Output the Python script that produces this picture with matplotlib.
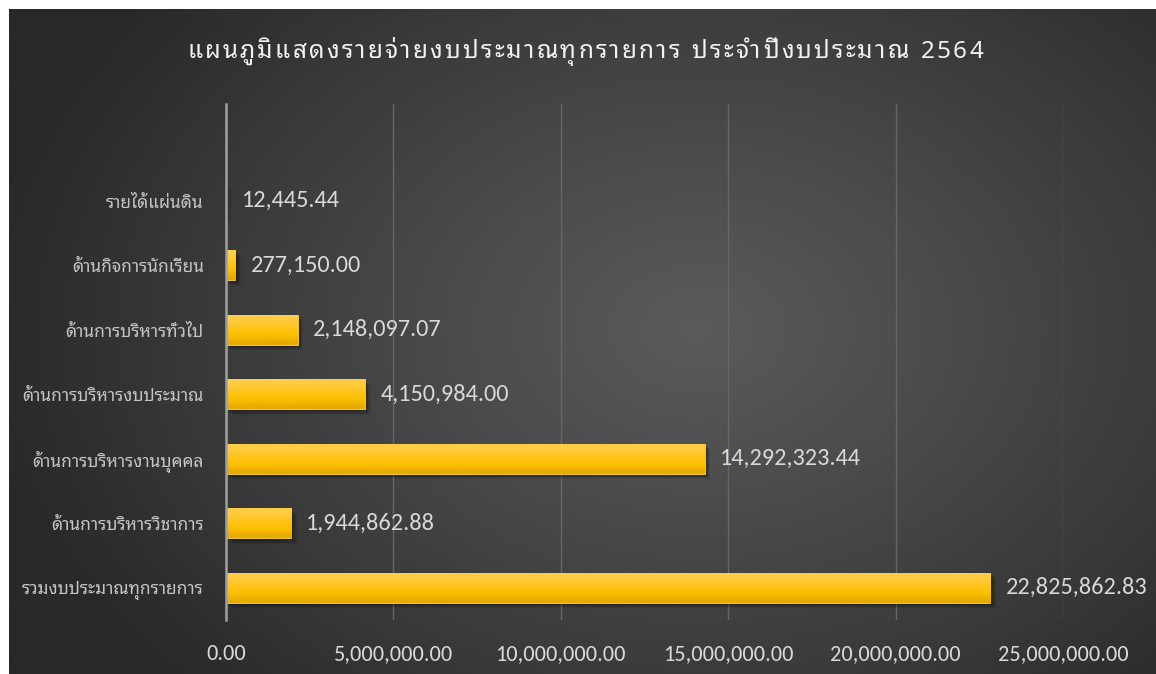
import matplotlib
matplotlib.use("Agg")
import matplotlib.pyplot as plt
import matplotlib.patheffects as pe
from matplotlib.ticker import FuncFormatter, MultipleLocator
import numpy as np

# ---- data ----
categories = [
    "รวมงบประมาณทุกรายการ",
    "ด้านการบริหารวิชาการ",
    "ด้านการบริหารงานบุคคล",
    "ด้านการบริหารงบประมาณ",
    "ด้านการบริหารทั่วไป",
    "ด้านกิจการนักเรียน",
    "รายได้แผ่นดิน",
]
values = [22825862.83, 1944862.88, 14292323.44, 4150984.00, 2148097.07, 277150.00, 12445.44]
title = "แผนภูมิแสดงรายจ่ายงบประมาณทุกรายการ ประจำปีงบประมาณ 2564"

W, H = 1156, 674
THAI = ["Noto Sans Thai Looped", "DejaVu Sans"]
NUM = ["Carlito", "DejaVu Sans"]

fig = plt.figure(figsize=(W / 100, H / 100), dpi=100, facecolor="white")

# background panel with radial gradient
bg = fig.add_axes([9 / W, 0, 1 - 9 / W, 1 - 9 / H])
bg.set_axis_off()
ny, nx = 300, 500
yy, xx = np.mgrid[0:ny, 0:nx]
cx, cy = 0.6 * nx, 0.48 * ny
d = np.sqrt(((xx - cx) / (0.62 * nx)) ** 2 + ((yy - cy) / (0.78 * ny)) ** 2)
d = np.clip(d, 0, 1)
lv = (0x5a - (0x5a - 0x29) * d ** 1.1) / 255.0
img = np.dstack([lv, lv, lv])
bg.imshow(img, aspect="auto", extent=[0, 1, 0, 1], origin="upper", interpolation="bicubic")
bg.set_xlim(0, 1)
bg.set_ylim(0, 1)

ax = fig.add_axes([226 / W, 1 - 620 / H, (1063 - 226) / W, (620 - 104) / H])
ax.set_facecolor("none")

ypos = np.arange(len(categories))
shadow = [pe.SimplePatchShadow(offset=(o, -o), shadow_rgbFace="black", alpha=a)
          for o, a in [(4.0, 0.08), (3.2, 0.1), (2.4, 0.12), (1.6, 0.14)]]
bars = ax.barh(ypos, values, height=0.465, color="#FFC000", edgecolor="#FFD24A",
               linewidth=0.6, zorder=3, path_effects=shadow + [pe.Normal()])

grad = np.array([[0xE6, 0xAC, 0x00], [0xFA, 0xBE, 0x00], [0xFF, 0xC3, 0x10],
                 [0xFF, 0xC8, 0x30], [0xFF, 0xCC, 0x45]]) / 255.0
grad = grad.reshape(5, 1, 3)
for b in bars:
    x0, y0 = b.get_x(), b.get_y()
    w, h = b.get_width(), b.get_height()
    im = ax.imshow(grad, extent=[x0, x0 + w, y0, y0 + h], origin="lower", aspect="auto",
                   interpolation="bilinear", zorder=4)
    im.set_clip_path(b)

for y, v in zip(ypos, values):
    ax.annotate(f"{v:,.2f}", xy=(v, y), xytext=(11, 0), textcoords="offset points",
                va="center", ha="left", fontsize=17.5, color="#d9d9d9", family=NUM, zorder=5)

ax.set_xlim(0, 25000000)
ax.set_ylim(-0.5, 7.5)
ax.xaxis.set_major_locator(MultipleLocator(5000000))
ax.xaxis.set_major_formatter(FuncFormatter(lambda x, p: f"{x:,.2f}"))
ax.grid(axis="x", color="#666666", linewidth=1.0, zorder=0)
ax.set_axisbelow(True)
for s in ["top", "right", "bottom"]:
    ax.spines[s].set_visible(False)
ax.spines["left"].set_color("#a0a0a0")
ax.spines["left"].set_linewidth(1.8)
ax.spines["left"].set_zorder(6)

ax.set_yticks(ypos)
ax.set_yticklabels(categories)
for lab in ax.get_yticklabels():
    lab.set_family(THAI)
    lab.set_fontsize(12.5)
    lab.set_color("#c4c4c4")
for lab in ax.get_xticklabels():
    lab.set_family(NUM)
    lab.set_fontsize(16)
    lab.set_color("#d9d9d9")
ax.tick_params(axis="y", length=0, pad=16)
ax.tick_params(axis="x", length=0, pad=17)

# title with letter spacing: place grapheme clusters one by one
marks = set([0x0E31] + list(range(0x0E34, 0x0E3B)) + list(range(0x0E47, 0x0E4F)))
clusters = []
for ch in title:
    if clusters and ord(ch) in marks:
        clusters[-1] += ch
    else:
        clusters.append(ch)
renderer = fig.canvas.get_renderer()
tstyle = dict(fontsize=17.5, color="#f2f2f2", family=THAI, va="baseline", ha="left",
              fontweight="semibold")
spacing = 2.25
texts, widths = [], []
for c in clusters:
    t = fig.text(0, 0, c, **tstyle)
    bb = t.get_window_extent(renderer)
    texts.append(t)
    widths.append(bb.width if c.strip() else 7.0)
total = sum(widths) + spacing * (len(clusters) - 1)
x = 585 - total / 2
for t, wdt in zip(texts, widths):
    t.set_position((x / W, 1 - 58 / H))
    x += wdt + spacing

fig.savefig("out.png", dpi=100, facecolor="white")
